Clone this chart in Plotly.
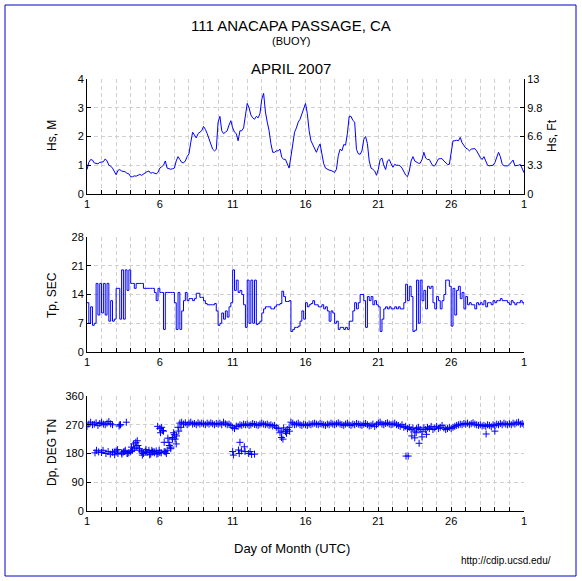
import plotly.graph_objects as go

# ---------------- data (sampled every 3 hours, day-of-month) ----------------
HS_M = [
    0.85, 1.1, 1.2, 1.18, 1.08, 1.07, 1.05, 1.1,
    1.1, 1.12, 1.22, 1.15, 1.0, 0.97, 0.9, 0.8,
    0.67, 0.82, 0.85, 0.8, 0.78, 0.77, 0.72, 0.7,
    0.6, 0.6, 0.63, 0.62, 0.65, 0.68, 0.65, 0.7,
    0.72, 0.78, 0.8, 0.72, 0.75, 0.72, 0.7, 0.75,
    0.9, 0.95, 1.0, 1.15, 0.9, 0.88, 0.86, 0.88,
    0.9, 1.15, 1.3, 1.2, 1.1, 1.08, 1.15, 1.3,
    1.4, 1.8, 2.15, 2.05, 1.95, 2.1, 2.15, 2.2,
    2.35, 2.25, 2.1, 1.9, 1.7, 1.56, 1.5, 1.55,
    2.5, 2.7, 2.2, 2.1, 2.15, 2.2, 2.4, 2.55,
    2.3, 2.15, 2.1, 1.85, 2.2, 2.2, 2.3, 2.7,
    3.15, 3.0, 2.75, 2.65, 2.6, 2.7, 2.65, 2.8,
    3.3, 3.5, 2.85, 2.5, 2.2, 1.75, 1.45, 1.45,
    1.5, 1.5, 1.56, 1.27, 1.21, 1.2, 1.05, 0.9,
    1.3, 1.8, 2.15, 2.3, 2.5, 2.6, 2.8, 2.95,
    3.15, 2.8, 2.2, 1.85, 1.7, 1.55, 1.45, 1.62,
    1.74, 1.4, 1.05, 0.9, 0.85, 0.83, 0.82, 0.78,
    0.75, 0.86, 1.33, 1.56, 1.5, 1.72, 1.7, 2.1,
    2.7, 2.7, 2.56, 2.5, 1.55, 1.4, 1.38, 1.5,
    1.9, 2.0, 1.75, 1.15, 0.9, 0.86, 0.8, 0.65,
    0.86, 1.2, 1.25, 1.0, 0.85, 1.15, 1.2, 1.05,
    0.93, 1.03, 1.0, 1.0, 0.98, 0.9, 0.78, 0.66,
    0.6, 0.8, 1.15, 1.3, 1.15, 1.12, 1.07, 1.07,
    1.2, 1.45, 1.25, 1.2, 1.2, 1.08, 0.98, 0.98,
    1.12, 1.22, 1.23, 1.23, 1.15, 1.1, 1.03, 1.03,
    1.4, 1.85, 1.85, 1.87, 1.85, 1.97, 1.78, 1.68,
    1.6, 1.56, 1.5, 1.56, 1.56, 1.58, 1.5, 1.38,
    1.27, 1.2, 1.3, 1.15, 1.0, 0.98, 0.98, 1.0,
    1.09, 1.27, 1.45, 1.3, 1.05, 0.98, 0.98, 0.98,
    1.03, 1.1, 1.18, 0.98, 0.98, 1.0, 1.03, 0.9,
    0.74,
]

TP_SEC = [
    12, 7, 11, 6.5, 7, 16.7, 9, 16.7,
    9.5, 16.7, 9, 16.7, 7.5, 12.5, 7.5, 8,
    15.5, 15.5, 8, 20, 8, 20, 15, 20,
    16.7, 16.7, 15.5, 16.7, 16.7, 16.7, 16.7, 15.5,
    15.5, 15.5, 15.5, 15.5, 15.5, 14.5, 12.5, 15.5,
    14.5, 14.5, 5.5, 14.5, 14.5, 14.5, 14.5, 14.5,
    12, 5.5, 14.5, 5.5, 10, 12.5, 14.5, 12.5,
    13, 13, 12.5, 13, 14.3, 14.3, 13.3, 13.3,
    12.5, 11.8, 11.5, 11.5, 11.5, 11.5, 11.8, 10,
    6.5, 7, 9.5, 8, 10, 8.5, 11, 12,
    20, 15, 17.5, 14.5, 15, 14, 11.5, 6,
    17.5, 7, 17.5, 7, 17.5, 6.7, 7, 7.5,
    9.5, 10.5, 11, 11, 11, 10.5, 10.5, 11,
    11.5, 11.5, 11.8, 14.8, 13.5, 12.3, 12.3, 12.5,
    5, 5.5, 6, 6, 6.3, 7.5, 10, 8,
    12, 11, 11.5, 11.8, 12.5, 11.5, 11.5, 11,
    11, 11.5, 10.5, 11, 10, 7.5, 10, 9.5,
    7, 7.5, 5.5, 6, 6, 5.5, 6, 5.5,
    7.5, 7.5, 10, 12, 10.5, 12, 14, 14,
    12.5, 6, 13.5, 12.5, 13.5, 11.5, 12.5, 11.5,
    11, 5, 8, 10.5, 11, 10.5, 11, 10.5,
    10.5, 11, 10.5, 11, 10.5, 10.5, 12, 16.5,
    12.5, 16, 13.5, 5, 5.3, 17.5, 7, 17.5,
    12.5, 15, 10.5, 16, 15.5, 16, 12, 10.5,
    13.5, 12.5, 10.5, 12.5, 14, 17.5, 17.5, 16,
    6.3, 15.5, 9, 15, 16, 13, 14.5, 10.5,
    13.5, 11.5, 12, 11.5, 11.5, 10.5, 12, 11.5,
    12, 11.5, 12.5, 11, 12, 12, 11.5, 12.5,
    12, 12.5, 12.5, 13, 12.5, 12.5, 12.5, 12,
    11.5, 12.5, 12, 11.5, 12, 12, 12.5, 12,
    11.5,
]

DP_DEG = [
    265, 272, 278, 270, 272, 276, 268, 274,
    278, 272, 270, 275, 280, 273, 270, 185,
    188, 180, 270, 182, 185, 190, 180, 183,
    186, 190, 195, 200, 205, 190, 185, 180,
    187, 183, 190, 178, 185, 182, 188, 180,
    183, 262, 250, 185, 190, 215, 200, 225,
    240, 210, 262, 275, 278, 272, 276, 270,
    275, 278, 272, 274, 270, 276, 272, 275,
    273, 270, 275, 272, 276, 273, 270, 274,
    272, 275, 270, 278, 273, 270, 272, 268,
    262, 258, 266, 265, 270, 268, 272, 270,
    272, 268, 270, 274, 271, 270, 268, 272,
    275, 272, 270, 272, 268, 270, 266, 268,
    262, 258, 245, 250, 260, 248, 255, 262,
    278, 275, 270, 272, 275, 270, 268, 272,
    270, 268, 272, 270, 273, 275, 272, 270,
    274, 272, 270, 268, 272, 270, 275, 272,
    270, 273, 276, 272, 270, 268, 272, 275,
    270, 268, 272, 270, 274, 272, 270, 268,
    272, 274, 270, 266, 268, 272, 265, 270,
    275, 278, 272, 270, 274, 276, 272, 270,
    272, 275, 270, 268, 265, 270, 262, 265,
    258, 262, 255, 260, 250, 258, 262, 255,
    248, 260, 255, 262, 258, 265, 255, 260,
    265, 258, 262, 268, 260, 255, 258, 262,
    258, 262, 265, 268, 270, 272, 270, 274,
    272, 275, 270, 273, 276, 272, 270, 268,
    270, 266, 268, 265, 270, 268, 264, 270,
    268, 272, 270, 274, 270, 275, 272, 270,
    273, 270, 275, 272, 276, 278, 272, 274,
    270,
]

# additional (secondary) direction estimates
DP_EXTRA_DAY = [1.55, 1.65, 1.8, 2.0, 2.1, 2.3, 2.45, 2.6, 2.75, 2.9,
                3.2, 3.3, 3.7,
                3.1, 3.4, 3.6, 3.8, 4.05, 4.2, 4.35, 4.45, 4.6, 4.8, 5.05,
                5.3, 5.45, 5.6, 5.8, 5.95, 6.1, 6.3, 6.45,
                5.85, 6.0, 6.05, 6.2, 6.3, 6.55, 6.65, 6.75, 6.85, 6.95,
                7.05, 7.15, 7.3, 7.45,
                11.0, 11.05, 11.4, 11.5, 11.6, 11.8, 11.85, 12.1, 12.2,
                12.3, 12.5, 11.45,
                14.35, 14.45, 14.7, 14.9,
                22.9, 23.05, 23.3, 23.5, 23.8, 24.0, 24.3, 23.6,
                28.4, 29.0]
DP_EXTRA_DEG = [182, 190, 185, 183, 190, 180, 186, 178, 184, 176,
                266, 270, 278,
                192, 178, 186, 180, 200, 210, 215, 220, 195, 175, 192,
                176, 190, 186, 178, 190, 182, 186, 180,
                265, 258, 245, 252, 215, 228, 205, 195, 230, 245,
                225, 235, 250, 262,
                186, 175, 191, 215, 188, 201, 186, 180, 186,
                177, 178, 180,
                230, 225, 243, 250,
                172, 172, 235, 229, 212, 232, 240, 245,
                241, 250]

DAYS = [1 + i / 8 for i in range(len(HS_M))]
M_TO_FT = 3.28084

X_TICKS = list(range(1, 32))
X_TICKTEXT = [str(d) if (d - 1) % 5 == 0 and d < 31 else ("1" if d == 31 else "")
              for d in X_TICKS]

HS_TICKS = [0, 1, 2, 3, 4]
FT_TICKTEXT = ["0", "3.3", "6.6", "9.8", "13"]
TP_TICKS = [0, 7, 14, 21, 28]
DP_TICKS = [0, 90, 180, 270, 360]

# ---------------- figure ----------------
W, H = 582, 581
FONT = "Liberation Sans, Arial, Helvetica, sans-serif"
BLUE = "#0000ff"


def px_x(x):
    return x / W


def px_y(y):
    return 1 - y / H


xdom = [px_x(87), px_x(524)]
dom_top = [px_y(194), px_y(79)]
dom_mid = [px_y(352), px_y(237)]
dom_bot = [px_y(511), px_y(396)]

fig = go.Figure()
fig.add_trace(go.Scatter(x=DAYS, y=HS_M, mode="lines",
                         line=dict(color=BLUE, width=1),
                         xaxis="x", yaxis="y", showlegend=False))
fig.add_trace(go.Scatter(x=DAYS, y=[h * M_TO_FT for h in HS_M], mode="lines",
                         opacity=0, hoverinfo="skip",
                         xaxis="x", yaxis="y2", showlegend=False))
fig.add_trace(go.Scatter(x=DAYS, y=TP_SEC, mode="lines",
                         line=dict(color=BLUE, width=1, shape="hv"),
                         xaxis="x2", yaxis="y3", showlegend=False))
mk = dict(symbol="cross-thin", size=5, color=BLUE, line=dict(color=BLUE, width=1))
fig.add_trace(go.Scatter(x=DAYS, y=DP_DEG, mode="markers", marker=mk,
                         xaxis="x3", yaxis="y4", showlegend=False))
fig.add_trace(go.Scatter(x=DP_EXTRA_DAY, y=DP_EXTRA_DEG, mode="markers", marker=mk,
                         xaxis="x3", yaxis="y4", showlegend=False))

grid = dict(showgrid=True, gridcolor="#d0d0d0", griddash="4px,3px", gridwidth=1)
axcommon = dict(showline=True, linecolor="black", linewidth=1, ticks="inside",
                ticklen=4, tickwidth=1, tickcolor="black", zeroline=False,
                automargin=False,
                tickfont=dict(family=FONT, size=11, color="black"), fixedrange=True)


def xax(anchor):
    return dict(domain=xdom, range=[1, 31], tickmode="array", tickvals=X_TICKS,
                ticktext=X_TICKTEXT, anchor=anchor, **grid, **axcommon)


def yax(dom, rng, ticks, anchor):
    return dict(domain=dom, range=rng, tickmode="array", tickvals=ticks,
                anchor=anchor, **grid, **axcommon)


fig.update_layout(
    width=W, height=H, autosize=False,
    margin=dict(l=0, r=0, t=0, b=0, pad=0, autoexpand=False),
    paper_bgcolor="white", plot_bgcolor="white",
    font=dict(family=FONT, color="black"),
    xaxis=xax("y"),
    xaxis2=xax("y3"),
    xaxis3=xax("y4"),
    yaxis=yax(dom_top, [0, 4], HS_TICKS, "x"),
    yaxis2=dict(domain=dom_top, range=[0, 4 * M_TO_FT], overlaying="y", side="right",
                anchor="x", tickmode="array",
                tickvals=[t * M_TO_FT for t in HS_TICKS], ticktext=FT_TICKTEXT,
                showgrid=False, **axcommon),
    yaxis3=yax(dom_mid, [0, 28], TP_TICKS, "x2"),
    yaxis4=yax(dom_bot, [0, 360], DP_TICKS, "x3"),
)

ann = [
    ("111 ANACAPA PASSAGE, CA", 291, 25, 15, 0),
    ("(BUOY)", 291, 41, 11, 0),
    ("APRIL 2007", 291, 68, 15, 0),
    ("Hs, M", 52, 136, 12, -90),
    ("Hs, Ft", 552, 136, 12, -90),
    ("Tp, SEC", 52, 295, 12, -90),
    ("Dp, DEG TN", 52, 453, 12, -90),
    ("Day of Month (UTC)", 292, 548, 13, 0),
    ("http://cdip.ucsd.edu/", 506, 560, 10, 0),
]
for text, x, y, size, ang in ann:
    fig.add_annotation(text=text, x=px_x(x), y=px_y(y), xref="paper", yref="paper",
                       showarrow=False, xanchor="center", yanchor="middle",
                       textangle=ang, font=dict(family=FONT, size=size, color="black"))

fig.add_shape(type="rect", xref="paper", yref="paper",
              x0=px_x(5), x1=px_x(576), y0=px_y(576), y1=px_y(5),
              line=dict(color="#0000cc", width=1), layer="above")

fig.write_html("out.html",
               config={"displayModeBar": False, "responsive": False},
               post_script="document.body.style.margin='0';document.body.style.overflow='hidden';")
